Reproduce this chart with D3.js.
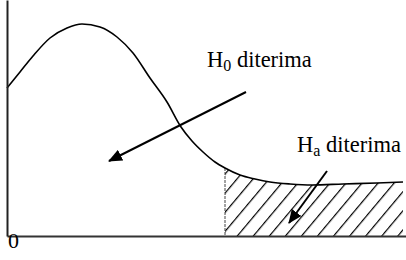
<!DOCTYPE html>
<html>
<head>
<meta charset="utf-8">
<script src="https://cdn.jsdelivr.net/npm/d3@7"></script>
<style>
  html, body { margin: 0; padding: 0; background: #fff; }
  svg { display: block; }
</style>
</head>
<body>
<svg id="chart" width="406" height="260"></svg>
<script>
// Density curve (arbitrary units)
const xVals = [0, 13, 26, 43, 60, 75, 93, 110, 126, 143, 160, 174, 185, 196, 208, 218, 233, 248, 263, 283, 305, 336, 370, 396];
const yVals = [148, 164, 180, 198, 208, 212, 209, 199, 183, 158, 134, 109, 95, 84, 74, 68, 61, 57, 54, 52, 51, 52, 53, 54];
// Critical value: start of rejection (shaded) region
const criticalX = 218;
// Labels
const axisLabel = "0";
const labelH0 = { main: "H", sub: "0", rest: " diterima" };
const labelHa = { main: "H", sub: "a", rest: " diterima" };
// Annotation anchors (data units): text position, arrow start, arrow tip
const h0Text = [200, 169];
const haText = [290, 84];
const h0Arrow = [239, 144, 102, 75];
const haArrow = [320, 65, 282, 13];

const FONT = "'Liberation Serif', 'DejaVu Serif', serif";

const svg = d3.select("#chart");
const x = d3.scaleLinear().domain([0, 399]).range([7, 406]);
const y = d3.scaleLinear().domain([0, 236]).range([236, 0]);

const pts = xVals.map((v, i) => [v, yVals[i]]);

// Hatch pattern
const defs = svg.append("defs");
const pat = defs.append("pattern")
  .attr("id", "hatch")
  .attr("patternUnits", "userSpaceOnUse")
  .attr("width", 12.3).attr("height", 12.3)
  .attr("patternTransform", "translate(1,0) rotate(40)");
pat.append("line")
  .attr("x1", 0).attr("y1", -2).attr("x2", 0).attr("y2", 14.3)
  .attr("stroke", "#000").attr("stroke-width", 2.4);

defs.append("marker")
  .attr("id", "arrow")
  .attr("markerUnits", "userSpaceOnUse")
  .attr("viewBox", "0 0 14 12")
  .attr("refX", 13).attr("refY", 6)
  .attr("markerWidth", 14).attr("markerHeight", 12)
  .attr("orient", "auto")
  .append("path").attr("d", "M0,0 L14,6 L0,12 Z").attr("fill", "#000");

// Shaded region
const shadePts = pts.filter(p => p[0] >= criticalX);
const area = d3.area().x(d => x(d[0])).y0(y(0)).y1(d => y(d[1])).curve(d3.curveMonotoneX);
svg.append("path").datum(shadePts)
  .attr("d", area)
  .attr("fill", "url(#hatch)");

// Left border of shaded region
const critY = yVals[xVals.indexOf(criticalX)];
svg.append("line")
  .attr("x1", x(criticalX)).attr("x2", x(criticalX))
  .attr("y1", y(critY)).attr("y2", y(0))
  .attr("stroke", "#444").attr("stroke-width", 1)
  .attr("stroke-dasharray", "3,1");

// Curve
const line = d3.line().x(d => x(d[0])).y(d => y(d[1])).curve(d3.curveMonotoneX);
svg.append("path").datum(pts)
  .attr("d", line)
  .attr("fill", "none")
  .attr("stroke", "#000")
  .attr("stroke-width", 1.6);

// Axes
const xAxis = d3.axisBottom(x).tickValues([]).tickSizeOuter(0);
const gx = svg.append("g").attr("transform", `translate(0,${y(0)})`).call(xAxis);
gx.select(".domain").attr("stroke", "#333").attr("stroke-width", 2.2);
const yAxis = d3.axisLeft(y).tickValues([]).tickSizeOuter(0);
const gy = svg.append("g").attr("transform", `translate(${x(0)},0)`).call(yAxis);
gy.select(".domain").attr("stroke", "#222").attr("stroke-width", 2);

svg.append("text")
  .attr("x", x(0) + 1).attr("y", y(0) + 12)
  .style("font-family", FONT)
  .attr("font-size", 22).attr("fill", "#000")
  .text(axisLabel);

// Labels
function label(pos, l) {
  const t = svg.append("text")
    .attr("x", x(pos[0])).attr("y", y(pos[1]))
    .style("font-family", FONT)
    .attr("font-size", 22.5).attr("fill", "#000");
  t.append("tspan").text(l.main);
  t.append("tspan").attr("font-size", 16).attr("dy", 4).text(l.sub);
  t.append("tspan").attr("dy", -4).text(l.rest);
}
label(h0Text, labelH0);
label(haText, labelHa);

// Arrows
[h0Arrow, haArrow].forEach(a => {
  svg.append("line")
    .attr("x1", x(a[0])).attr("y1", y(a[1]))
    .attr("x2", x(a[2])).attr("y2", y(a[3]))
    .attr("stroke", "#000").attr("stroke-width", 2)
    .attr("marker-end", "url(#arrow)");
});
</script>
</body>
</html>
